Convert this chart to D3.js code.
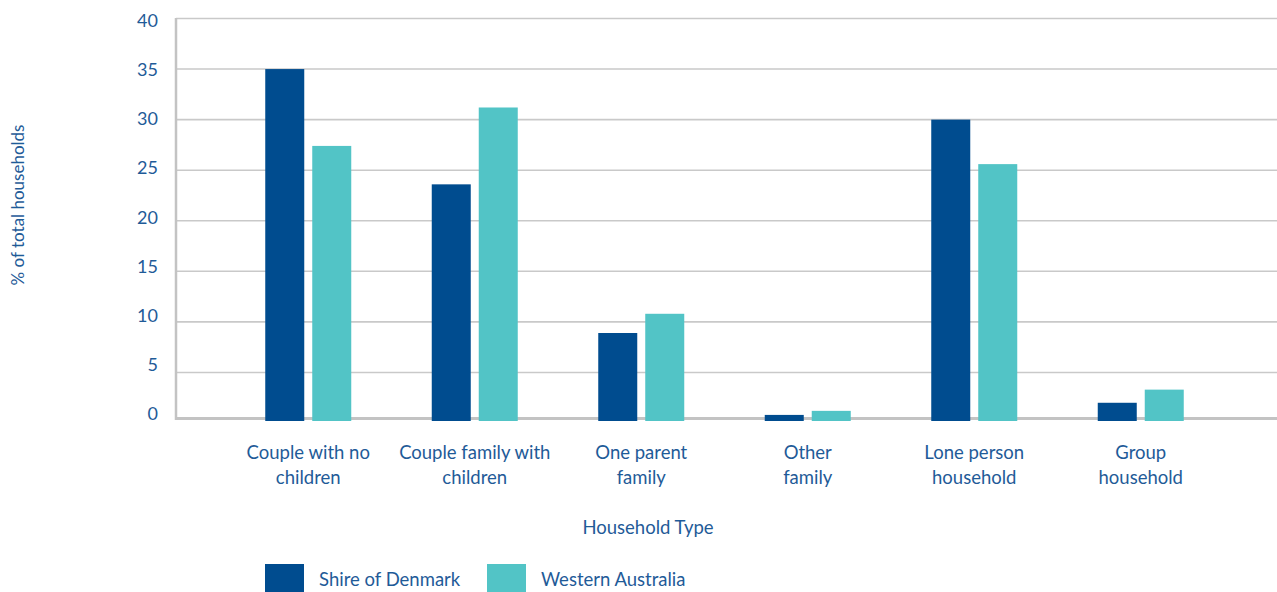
<!DOCTYPE html>
<html>
<head>
<meta charset="utf-8">
<script src="https://cdn.jsdelivr.net/npm/d3@7"></script>
<style>
  body { margin: 0; background: #fff; }
  text { font-family: Lato, "Open Sans", sans-serif; fill: #1f5b98; }
</style>
</head>
<body>
<div id="chart"></div>
<script>
const categories = [
  ["Couple with no", "children"],
  ["Couple family with", "children"],
  ["One parent", "family"],
  ["Other", "family"],
  ["Lone person", "household"],
  ["Group", "household"]
];
const seriesNames = ["Shire of Denmark", "Western Australia"];
const denmark = [35.0, 23.6, 8.9, 0.8, 30.0, 2.0];
const westernAustralia = [27.4, 31.2, 10.8, 1.2, 25.6, 3.3];
const yTicks = [0, 5, 10, 15, 20, 25, 30, 35, 40];
const colors = ["#004c8f", "#52c4c6"];

const width = 1277, height = 592;
const svg = d3.select("#chart").append("svg")
  .attr("width", width)
  .attr("height", height);

// scales
const y = d3.scaleLinear().domain([0, 40]).range([423, 18.5]);
const yLabel = d3.scaleLinear().domain([0, 40]).range([414, 20.7]);
const baseY = 421;
const x0 = d3.scaleBand().domain(d3.range(categories.length)).range([225, 1224]);
const x1 = d3.scaleBand().domain([0, 1]).range([x0.bandwidth() / 2 - 43, x0.bandwidth() / 2 + 43]).paddingInner(0.17);

// gridlines
svg.append("g").selectAll("line")
  .data(yTicks.filter(d => d > 0))
  .enter().append("line")
  .attr("x1", 176).attr("x2", width)
  .attr("y1", d => y(d)).attr("y2", d => y(d))
  .style("stroke", "#c9c9c9")
  .style("stroke-width", 1.6);

// axes lines
svg.append("line")
  .attr("x1", 176).attr("x2", 176)
  .attr("y1", 18).attr("y2", 420)
  .style("stroke", "#c3c3c3").style("stroke-width", 2.5);
svg.append("line")
  .attr("x1", 175).attr("x2", width)
  .attr("y1", 418.5).attr("y2", 418.5)
  .style("stroke", "#c3c3c3").style("stroke-width", 3);

// tick labels
svg.append("g").selectAll("text")
  .data(yTicks)
  .enter().append("text")
  .attr("x", 158)
  .attr("y", d => yLabel(d))
  .attr("dy", "0.35em")
  .attr("text-anchor", "end")
  .style("font-size", "18px")
  .text(d => d);

// bars
const rows = categories.map((c, i) => [denmark[i], westernAustralia[i]]);
const groups = svg.append("g").selectAll("g")
  .data(rows)
  .enter().append("g")
  .attr("transform", (d, i) => `translate(${x0(i)},0)`);

groups.selectAll("rect")
  .data(d => d.map((v, s) => ({ v, s })))
  .enter().append("rect")
  .attr("x", d => x1(d.s))
  .attr("width", x1.bandwidth())
  .attr("y", d => y(d.v))
  .attr("height", d => baseY - y(d.v))
  .style("fill", d => colors[d.s]);

// category labels
const catText = svg.append("g").selectAll("text")
  .data(categories)
  .enter().append("text")
  .attr("x", (d, i) => x0(i) + x0.bandwidth() / 2)
  .attr("y", 459)
  .attr("text-anchor", "middle")
  .style("font-size", "18.5px");
catText.selectAll("tspan")
  .data(d => d)
  .enter().append("tspan")
  .attr("x", function () { return d3.select(this.parentNode).attr("x"); })
  .attr("dy", (d, i) => i === 0 ? 0 : "1.35em")
  .text(d => d);

// axis titles
svg.append("text")
  .attr("x", 648).attr("y", 534)
  .attr("text-anchor", "middle")
  .style("font-size", "18.5px")
  .text("Household Type");

svg.append("text")
  .attr("transform", "translate(24,205) rotate(-90)")
  .attr("text-anchor", "middle")
  .style("font-size", "17px")
  .text("% of total households");

// legend
const legendX = [265, 487];
const legend = svg.append("g").selectAll("g")
  .data(seriesNames)
  .enter().append("g")
  .attr("transform", (d, i) => `translate(${legendX[i]},564)`);
legend.append("rect")
  .attr("width", 39).attr("height", 28)
  .style("fill", (d, i) => colors[i]);
legend.append("text")
  .attr("x", 54).attr("y", 16)
  .attr("dy", "0.35em")
  .style("font-size", "18.5px")
  .text(d => d);
</script>
</body>
</html>
